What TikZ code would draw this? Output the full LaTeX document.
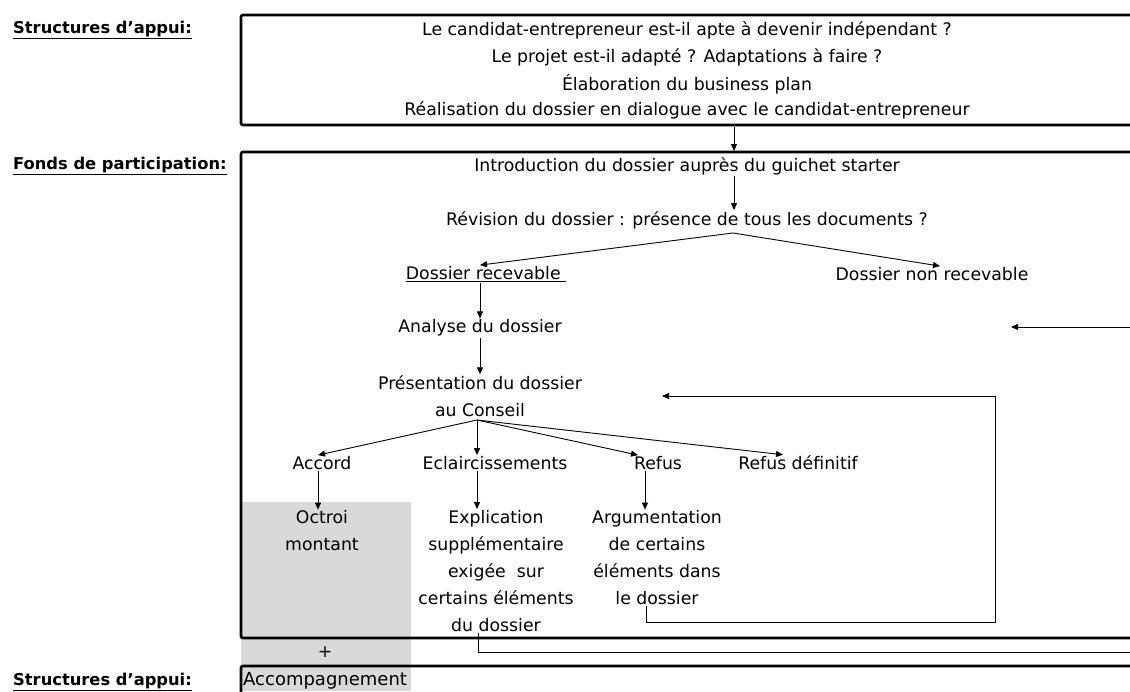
\documentclass[tikz,border=0pt]{standalone}
\usepackage{fontspec}
\setmainfont{DejaVu Sans}
\usetikzlibrary{arrows.meta,positioning}

\begin{document}
\begin{tikzpicture}[x=1pt,y=-1pt,font=\fontsize{17.3}{27}\selectfont,
      side/.style={font=\fontsize{16.3}{27}\selectfont\bfseries,anchor=west,inner sep=0pt},
      txt/.style={inner sep=1pt,align=center},
      frame/.style={draw,line width=2.6pt,rounded corners=2pt},
      flow/.style={-{Triangle[length=7pt,width=6pt]},line width=0.9pt},
      back/.style={line width=0.9pt}]
    \useasboundingbox (0,0) rectangle (1130,691);
    \clip (0,0) rectangle (1130,691);
    % shaded column under the grant
    \fill[black!15] (241,502) rectangle (411,691);
    % frames
    \draw[frame] (1150,15) -- (241,15) -- (241,125) -- (1150,125);
    \draw[frame] (1150,152) -- (241,152) -- (241,638) -- (1150,638);
    \draw[frame] (1150,666) -- (241,666) -- (241,700);

    \node[side] (lab1) at (13,30) {\underline{Structures d'appui:}};
    \node[side] (lab2) at (13,166) {\underline{Fonds de participation:}};
    \node[side] (lab3) at (13,682) {\underline{Structures d'appui:}};

    % support structures
    \node[txt] (apt) at (687,30) {Le candidat-entrepreneur est-il apte à devenir indépendant ?};
    \node[txt] (proj) at (687,57) {Le projet est-il adapté ? Adaptations à faire ?};
    \node[txt] (bp) at (687,84) {Élaboration du business plan};
    \node[txt] (dial) at (687,110) {Réalisation du dossier en dialogue avec le candidat-entrepreneur};
    \coordinate (out1) at (734,127);
    \coordinate (in2) at (734,151);
    \draw[flow] (out1) -- (in2);

    % participation fund
    \node[txt] (intro) at (687,166) {Introduction du dossier auprès du guichet starter};
    \node[txt] (rev) at (687,220) {Révision du dossier : présence de tous les documents ?};
    \draw[flow] (intro.south -| in2) -- (rev.north -| in2);
    \coordinate (split1) at (733,233);
    \node[txt] (recv) at (486,274) {\underline{Dossier recevable\ }};
    \node[txt] (nrecv) at (932,274) {Dossier non recevable};
    \draw[flow] (split1) -- ([xshift=-6pt]recv.north);
    \draw[flow] (split1) -- ([xshift=8pt]nrecv.north);
    \node[txt] (ana) at (480,328) {Analyse du dossier};
    \node[txt] (pres) at (480,396) {Présentation du dossier\\au Conseil};
    \draw[flow] (recv.south -| ana) -- (ana.north);
    \draw[flow] (ana) -- (pres);

    \coordinate (split2) at (477,420);
    \node[txt] (acc) at (322,463) {Accord};
    \node[txt] (ecl) at (495,463) {Eclaircissements};
    \node[txt] (ref) at (658,463) {Refus};
    \node[txt] (def) at (798,463) {Refus définitif};
    \draw[flow] (split2) -- ([xshift=-4pt]acc.north);
    \draw[flow] (split2) -- (ecl.north -| split2);
    \draw[flow] (split2) -- ([xshift=-20pt]ref.north);
    \draw[flow] (split2) -- ([xshift=-15pt]def.north);

    \node[txt] (grant) at (322,531) {Octroi\\montant};
    \node[txt] (expl) at (496,571) {Explication\\supplémentaire\\exigée\ \ sur\\certains éléments\\du dossier};
    \node[txt] (arg) at (657,558) {Argumentation\\de certains\\éléments dans\\le dossier};
    \draw[flow] ([xshift=-4pt]acc.south) -- (grant.north -| 318,0);
    \draw[flow] (ecl.south -| split2) -- (expl.north -| split2);
    \draw[flow] (ref.south -| 645,0) -- (arg.north -| 645,0);

    % loops back to the council
    \coordinate (backin) at (662,396);
    \draw[back,-{Triangle[length=7pt,width=6pt]}] ([xshift=-11pt]arg.south) |- (995,622) |- (backin);
    \draw[back] ([xshift=-18pt]expl.south) |- (1150,652);
    \coordinate (edge) at (1150,327);
    \coordinate (gap) at (1011,327);
    \draw[flow] (edge) -- (gap);

    % support structures again
    \node[txt] (plus) at (325,652) {+};
    \node[txt,anchor=west,font=\fontsize{18}{27}\selectfont] (follow) at (242,681) {Accompagnement};
  \end{tikzpicture}
\end{document}
